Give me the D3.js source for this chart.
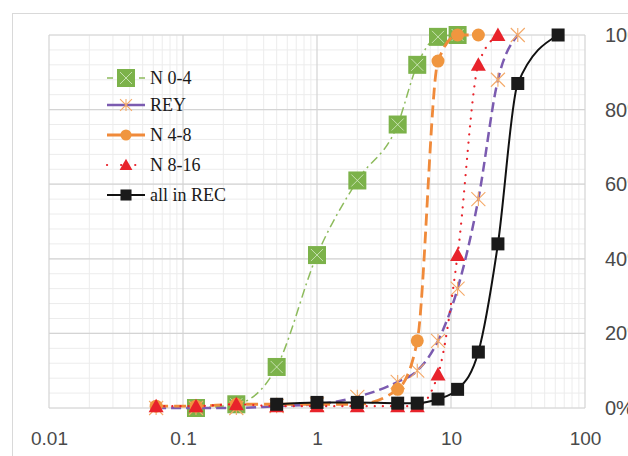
<!DOCTYPE html>
<html><head><meta charset="utf-8">
<script src="https://cdn.jsdelivr.net/npm/d3@7"></script>
<style>html,body{margin:0;padding:0;background:#fff;overflow:hidden}</style>
</head><body><svg id="c" width="628" height="456"></svg>
<script>
// ---- data ----
const seriesNames = ["N 0-4", "REY", "N 4-8", "N 8-16", "all in REC"];
const xN04 = [0.125, 0.25, 0.5, 1, 2, 4, 5.6, 8, 11.2];
const yN04 = [0, 1, 11, 41, 61, 76, 92, 99.5, 100];
const xREY = [0.063, 0.125, 0.25, 0.5, 1, 2, 4, 5.6, 8, 11.2, 16, 22.4, 31.5];
const yREY = [0, 0, 0, 0.5, 1, 3, 7, 10, 18, 32, 56, 88, 100];
const xN48 = [0.063, 0.125, 0.25, 0.5, 1, 2, 4, 5.6, 8, 11.2, 16];
const yN48 = [0.5, 0.5, 1, 1, 1, 1, 5, 18, 93, 100, 100];
const xN816 = [0.063, 0.125, 0.25, 0.5, 1, 2, 4, 5.6, 8, 11.2, 16, 22.4];
const yN816 = [0.5, 0.5, 1, 0.5, 0.5, 0.5, 0.5, 0.5, 9, 41, 92, 100];
const xREC = [0.5, 1, 2, 4, 5.6, 8, 11.2, 16, 22.4, 31.5, 63];
const yREC = [1, 1.5, 1.5, 1.3, 1.3, 2.4, 5, 15, 44, 87, 100];
const xTicks = [0.01, 0.1, 1, 10, 100];
const xTickLabels = ["0.01", "0.1", "1", "10", "100"];
const yTicks = [0, 20, 40, 60, 80, 100];
const yTickLabels = ["0%", "20%", "40%", "60%", "80%", "100%"];

const svg = d3.select("#c");
const L = 49, R = 585, T = 35, B = 408;
const x = d3.scaleLog().domain([0.01, 100]).range([L, R]);
const y = d3.scaleLinear().domain([0, 100]).range([B, T]);

// outer chart border
svg.append("rect").attr("x", 12.5).attr("y", 13.5).attr("width", 640).attr("height", 460)
  .attr("fill", "none").attr("stroke", "#d9d9d9").attr("stroke-width", 1);

// minor grid
const g = svg.append("g");
const minorX = [];
for (let e = -2; e < 2; e++) for (let m = 2; m <= 9; m++) minorX.push(m * Math.pow(10, e));
g.selectAll(".mx").data(minorX).join("line")
  .attr("x1", d => x(d)).attr("x2", d => x(d)).attr("y1", T).attr("y2", B)
  .attr("stroke", "#ececec").attr("stroke-width", 1);
g.selectAll(".my").data(d3.range(0, 101, 4)).join("line")
  .attr("x1", L).attr("x2", R).attr("y1", d => y(d)).attr("y2", d => y(d))
  .attr("stroke", "#ececec").attr("stroke-width", 1);
// major grid
g.selectAll(".Mx").data(xTicks).join("line")
  .attr("x1", d => x(d)).attr("x2", d => x(d)).attr("y1", T).attr("y2", B)
  .attr("stroke", "#d4d4d4").attr("stroke-width", 1.2);
g.selectAll(".My").data(yTicks).join("line")
  .attr("x1", L).attr("x2", R).attr("y1", d => y(d)).attr("y2", d => y(d))
  .attr("stroke", "#d4d4d4").attr("stroke-width", 1.2);

// axes (labels only)
const xAxis = d3.axisBottom(x).tickValues(xTicks).tickFormat((d, i) => xTickLabels[i]).tickSize(0).tickPadding(24);
const xa = svg.append("g").attr("transform", `translate(0,${B})`).call(xAxis);
xa.select(".domain").remove();
xa.selectAll("text").attr("font-family", "Liberation Sans, Arial, sans-serif").attr("font-size", 19).attr("fill", "#4a4a4a");
const yAxis = d3.axisRight(y).tickValues(yTicks).tickFormat((d, i) => yTickLabels[i]).tickSize(0).tickPadding(20);
const ya = svg.append("g").attr("transform", `translate(${R},0)`).call(yAxis);
ya.select(".domain").remove();
ya.selectAll("text").attr("font-family", "Liberation Sans, Arial, sans-serif").attr("font-size", 20).attr("fill", "#4a4a4a");

const series = [
  { name: seriesNames[0], xs: xN04, ys: yN04, color: "#8dbb5c", width: 1.5, dash: "9,4,2,4", marker: "sqx", mcolor: "#7cb24a" },
  { name: seriesNames[1], xs: xREY, ys: yREY, color: "#7b5bb0", width: 2.5, dash: "10,5", marker: "star", mcolor: "#f4a968" },
  { name: seriesNames[2], xs: xN48, ys: yN48, color: "#f08a3a", width: 2.8, dash: "12,6", marker: "circle", mcolor: "#f0963f" },
  { name: seriesNames[3], xs: xN816, ys: yN816, color: "#e8232b", width: 2.2, dash: "0.1,8", marker: "tri", mcolor: "#e8232b" },
  { name: seriesNames[4], xs: xREC, ys: yREC, color: "#111111", width: 2, dash: null, marker: "sq", mcolor: "#1a1a1a" }
];

function drawMarker(sel, type, color, cx, cy, scale) {
  const s = scale || 1;
  if (type === "sqx") {
    const h = 9 * s;
    sel.append("rect").attr("x", cx - h).attr("y", cy - h).attr("width", 2 * h).attr("height", 2 * h).attr("fill", color);
    sel.append("path").attr("d", `M${cx - h + 3},${cy - h + 3}L${cx + h - 3},${cy + h - 3}M${cx + h - 3},${cy - h + 3}L${cx - h + 3},${cy + h - 3}`)
      .attr("stroke", "#d8ecc8").attr("stroke-width", 0.8);
  } else if (type === "star") {
    const h = 7 * s;
    sel.append("path").attr("d", `M${cx - h},${cy - h}L${cx + h},${cy + h}M${cx + h},${cy - h}L${cx - h},${cy + h}M${cx},${cy - h}L${cx},${cy + h}`)
      .attr("stroke", color).attr("stroke-width", 1.1).attr("fill", "none");
  } else if (type === "circle") {
    sel.append("circle").attr("cx", cx).attr("cy", cy).attr("r", 6.5 * s).attr("fill", color);
  } else if (type === "tri") {
    const h = 7.5 * s;
    sel.append("path").attr("d", `M${cx},${cy - h}L${cx + h},${cy + h * 0.8}L${cx - h},${cy + h * 0.8}Z`).attr("fill", color);
  } else if (type === "sq") {
    const h = 6.5 * s;
    sel.append("rect").attr("x", cx - h).attr("y", cy - h).attr("width", 2 * h).attr("height", 2 * h).attr("fill", color);
  }
}

const line = d3.line().x(d => x(d[0])).y(d => y(d[1])).curve(d3.curveMonotoneX);
const plot = svg.append("g");
series.forEach(s => {
  const pts = s.xs.map((v, i) => [v, s.ys[i]]);
  const p = plot.append("path").attr("d", line(pts)).attr("fill", "none")
    .attr("stroke", s.color).attr("stroke-width", s.width).attr("stroke-linecap", s.marker === "tri" ? "round" : "butt");
  if (s.dash) p.attr("stroke-dasharray", s.dash);
  const mg = plot.append("g");
  pts.forEach(d => drawMarker(mg, s.marker, s.mcolor, x(d[0]), y(d[1])));
});

// legend
const leg = svg.append("g");
const legY = [78, 105, 135, 165, 195];
series.forEach((s, i) => {
  const ly = legY[i];
  const ln = leg.append("line").attr("x1", 107).attr("x2", 145).attr("y1", ly).attr("y2", ly)
    .attr("stroke", s.color).attr("stroke-width", s.width).attr("stroke-linecap", s.marker === "tri" ? "round" : "butt");
  if (s.dash) ln.attr("stroke-dasharray", s.marker === "tri" ? "0.1,14" : (s.marker === "sqx" ? "6,4,2,4" : null));
  drawMarker(leg, s.marker, s.mcolor, 126, ly, s.marker === "sqx" ? 1 : 0.85);
  leg.append("text").attr("x", 150).attr("y", ly + 6).text(s.name)
    .attr("font-family", "Liberation Serif, Times New Roman, serif").attr("font-size", 18).attr("fill", "#1a1a1a");
});
</script></body></html>
